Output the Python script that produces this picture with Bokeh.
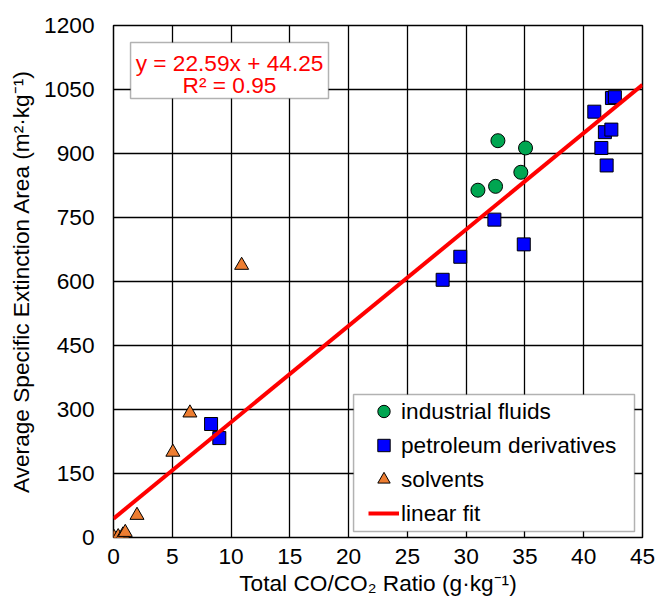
from bokeh.plotting import figure
from bokeh.models import (Range1d, FixedTicker, Legend, LegendItem,
                          BoxAnnotation, Label)
from bokeh.embed import file_html
from bokeh.resources import INLINE

# Total CO/CO2 ratio (g/kg) vs. average specific extinction area (m2/kg)
industrial_x = [31.0, 32.5, 32.7, 34.65, 35.05]
industrial_y = [814, 823, 930, 856, 913]

petroleum_x = [8.3, 9.0, 28.0, 29.5, 32.4, 34.9, 40.9, 41.5, 41.8, 41.95,
               42.35, 42.4, 42.65]
petroleum_y = [266, 233, 604, 658, 745, 687, 998, 913, 950, 872,
               956, 1030, 1032]

solvent_x = [0.05, 0.4, 0.8, 1.0, 2.0, 5.05, 6.5, 10.9]
solvent_y = [0, 2, 6, 12, 52, 200, 292, 638]

# least-squares fit reported on the chart
fit_slope = 22.59
fit_intercept = 44.25
fit_r2 = 0.95
fit_x = [0, 45]
fit_y = [fit_slope * x + fit_intercept for x in fit_x]

x_ticks = [0, 5, 10, 15, 20, 25, 30, 35, 40, 45]
y_ticks = [0, 150, 300, 450, 600, 750, 900, 1050, 1200]

FONT = "Liberation Sans"
FS = "17pt"

p = figure(frame_width=529, frame_height=512,
           x_range=Range1d(0, 45), y_range=Range1d(0, 1200),
           output_backend="svg", toolbar_location=None,
           min_border_left=113, min_border_right=15,
           min_border_top=25, min_border_bottom=70)
p.background_fill_color = "white"
p.border_fill_color = "white"
p.outline_line_color = "black"
p.outline_line_width = 1.5

p.xaxis.ticker = FixedTicker(ticks=x_ticks)
p.yaxis.ticker = FixedTicker(ticks=y_ticks)
p.xaxis.axis_label = "Total CO/CO\u2082 Ratio (g\u00b7kg\u207b\u00b9)"
p.yaxis.axis_label = "Average Specific Extinction Area (m\u00b2\u00b7kg\u207b\u00b9)"
for ax in (p.xaxis, p.yaxis):
    ax.axis_line_color = None
    ax.major_tick_line_color = None
    ax.minor_tick_line_color = None
    ax.major_tick_in = 0
    ax.major_tick_out = 0
    ax.minor_tick_in = 0
    ax.minor_tick_out = 0
    ax.major_label_text_font = FONT
    ax.major_label_text_font_size = FS
    ax.major_label_text_color = "black"
    ax.axis_label_text_font = FONT
    ax.axis_label_text_font_size = FS
    ax.axis_label_text_font_style = "normal"
    ax.axis_label_text_color = "black"
p.xaxis.major_label_standoff = 11
p.xaxis.axis_label_standoff = 3
p.yaxis.major_label_standoff = 19
p.yaxis.axis_label_standoff = 7

for g in (p.xgrid, p.ygrid):
    g.grid_line_color = "black"
    g.grid_line_width = 1.3

r_ind = p.scatter(industrial_x, industrial_y, marker="circle", size=14,
                  fill_color="#00A651", line_color="black", line_width=1)
r_pet = p.scatter(petroleum_x, petroleum_y, marker="square", size=13,
                  fill_color="#0000FF", line_color="black", line_width=1)
r_sol = p.scatter(solvent_x, solvent_y, marker="triangle", size=14,
                  fill_color="#ED7D31", line_color="black", line_width=1)
r_fit = p.line(fit_x, fit_y, line_color="#FF0000", line_width=4)

# equation box
eq_box = BoxAnnotation(left=1.45, right=18.29, top=1160, bottom=1029,
                       fill_color="white", fill_alpha=1.0,
                       line_color="black", line_width=1.5)
p.add_layout(eq_box)
eq_text = Label(x=9.87, y=1113, text=f"y = {fit_slope}x + {fit_intercept}",
                text_align="center", text_baseline="middle",
                text_font=FONT, text_font_size=FS, text_color="#FF0000")
r2_text = Label(x=9.87, y=1061, text=f"R\u00b2 = {fit_r2}",
                text_align="center", text_baseline="middle",
                text_font=FONT, text_font_size=FS, text_color="#FF0000")
p.add_layout(eq_text)
p.add_layout(r2_text)

# legend frame and entries
leg_box = BoxAnnotation(left=20.42, right=44.32, top=335, bottom=14,
                        fill_color="white", fill_alpha=1.0,
                        line_color="black", line_width=1.5)
p.add_layout(leg_box)

legend = Legend(items=[
    LegendItem(label="industrial fluids", renderers=[r_ind]),
    LegendItem(label="petroleum derivatives", renderers=[r_pet]),
    LegendItem(label="solvents", renderers=[r_sol]),
    LegendItem(label="linear fit", renderers=[r_fit]),
], location=(255, 7), padding=0, spacing=0, margin=0,
    glyph_width=31, glyph_height=34, label_height=34, label_standoff=2,
    border_line_alpha=0, background_fill_alpha=0,
    label_text_font=FONT, label_text_font_size=FS, label_text_color="black")
p.add_layout(legend, "center")

open("out.html", "w").write(file_html(p, INLINE))
